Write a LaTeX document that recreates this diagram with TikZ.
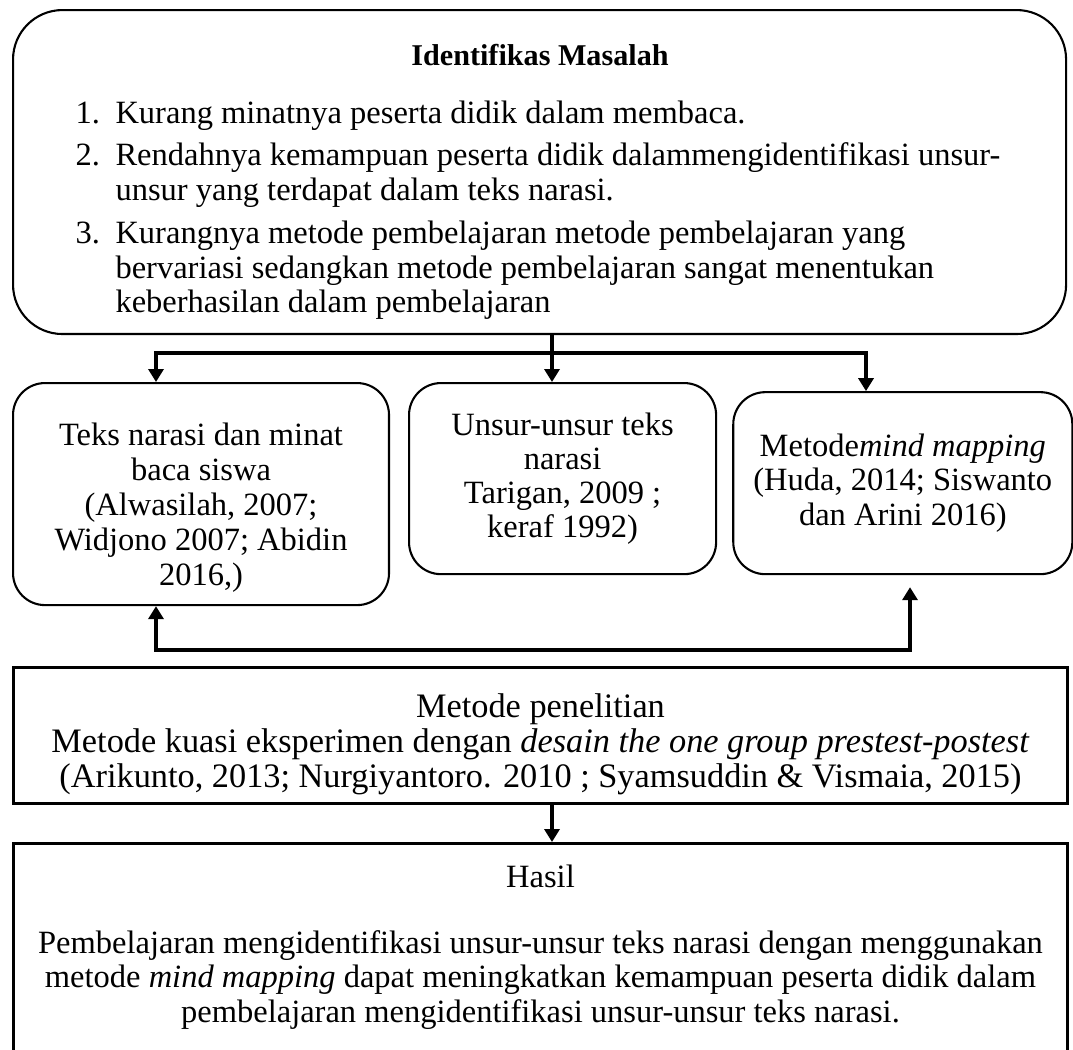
\documentclass[tikz,border=0pt]{standalone}
\usepackage{fontspec}
\setmainfont{Liberation Serif}
\usetikzlibrary{arrows.meta,positioning,calc}

\newcommand{\ukuran}{\fontsize{12.5}{13.4}\selectfont}
\newcommand{\nomor}[1]{\makebox[15.4pt][l]{#1}}

\begin{document}
\begin{tikzpicture}[
  x=0.3846pt,y=-0.3846pt,
  every node/.style={font=\ukuran},
  kotakbulat/.style={draw,line width=0.8pt,rounded corners=12.3pt,align=center},
  kotak/.style={draw,line width=1.1pt,align=center},
  panah/.style={line width=1.2pt,-{Triangle[length=5pt,width=5.8pt]}},
  panahdua/.style={line width=1.2pt,{Triangle[length=5pt,width=5.8pt]}-{Triangle[length=5pt,width=5.8pt]}}
]
  \useasboundingbox (0,0) rectangle (1073,1049);

  % identifikasi masalah
  \node[draw,line width=0.8pt,rounded corners=19pt,minimum width=405pt,minimum height=124.6pt,anchor=north west] (masalah) at (12,9) {};
  \node[font=\fontsize{11.6}{13.4}\selectfont\bfseries] (judul) at (540,55) {Identifikas Masalah};
  \node[anchor=north west,align=left,inner sep=0pt] (daftar) at (75,100) {%
    \nomor{1.}Kurang minatnya peserta didik dalam membaca.\\[3pt]
    \nomor{2.}Rendahnya kemampuan peserta didik dalammengidentifikasi unsur-\\
    \nomor{}unsur yang terdapat dalam teks narasi.\\[3pt]
    \nomor{3.}Kurangnya metode pembelajaran metode pembelajaran yang\\
    \nomor{}bervariasi sedangkan metode pembelajaran sangat menentukan\\
    \nomor{}keberhasilan dalam pembelajaran};

  % kajian teori
  \node[kotakbulat,minimum width=144.6pt,minimum height=85.4pt,anchor=north west] (teks) at (12,382)
    {\rule{0pt}{19pt}Teks narasi dan minat\\baca siswa\\(Alwasilah, 2007;\\Widjono 2007; Abidin\\2016,)};
  \node[kotakbulat,font=\fontsize{12.5}{13}\selectfont,minimum width=118.1pt,minimum height=73.5pt,right=6.9pt of teks.north east,anchor=north west] (unsur)
    {Unsur-unsur teks\\narasi\\Tarigan, 2009 ;\\keraf 1992)};
  \node[kotakbulat,minimum width=130.4pt,minimum height=70pt,below right=3.5pt and 5.8pt of unsur.north east,anchor=north west] (mind)
    {Metode\textit{mind mapping}\\(Huda, 2014; Siswanto\\dan Arini 2016)};

  % metode dan hasil
  \node[kotak,font=\fontsize{13.2}{13.4}\selectfont,minimum width=405.4pt,minimum height=51.5pt,anchor=north west] (metode) at (12,666)
    {\rule{0pt}{16pt}Metode penelitian\\Metode kuasi eksperimen dengan \textit{desain the one group prestest-postest}\\(Arikunto, 2013; Nurgiyantoro. 2010 ; Syamsuddin \& Vismaia, 2015)};
  \node[kotak,minimum width=405.4pt,minimum height=90pt,anchor=north west] (hasil) at (12,842) {};
  \node[align=center,below=5.4pt of hasil.north] (hasilteks)
    {Hasil\\[11.7pt]Pembelajaran mengidentifikasi unsur-unsur teks narasi dengan menggunakan\\
     metode \textit{mind mapping} dapat meningkatkan kemampuan peserta didik dalam\\
     pembelajaran mengidentifikasi unsur-unsur teks narasi.};

  \coordinate (cabang) at (552,353);
  \coordinate (kiri) at (156,353);
  \coordinate (kanan) at (866,353);
  \coordinate (bawahkiri) at (156,650);
  \coordinate (bawahkanan) at (910,650);

  \draw[panah] (masalah.south -| cabang) -- (unsur.north -| cabang);
  \draw[panah] (cabang) -| (teks.north -| kiri);
  \draw[panah] (cabang) -| (mind.north -| kanan);
  \draw[panahdua,shorten >=4.6pt] (teks.south -| bawahkiri) |- (bawahkanan) -- (mind.south -| bawahkanan);
  \draw[panah] (metode.south -| cabang) -- (hasil.north -| cabang);
\end{tikzpicture}
\end{document}
